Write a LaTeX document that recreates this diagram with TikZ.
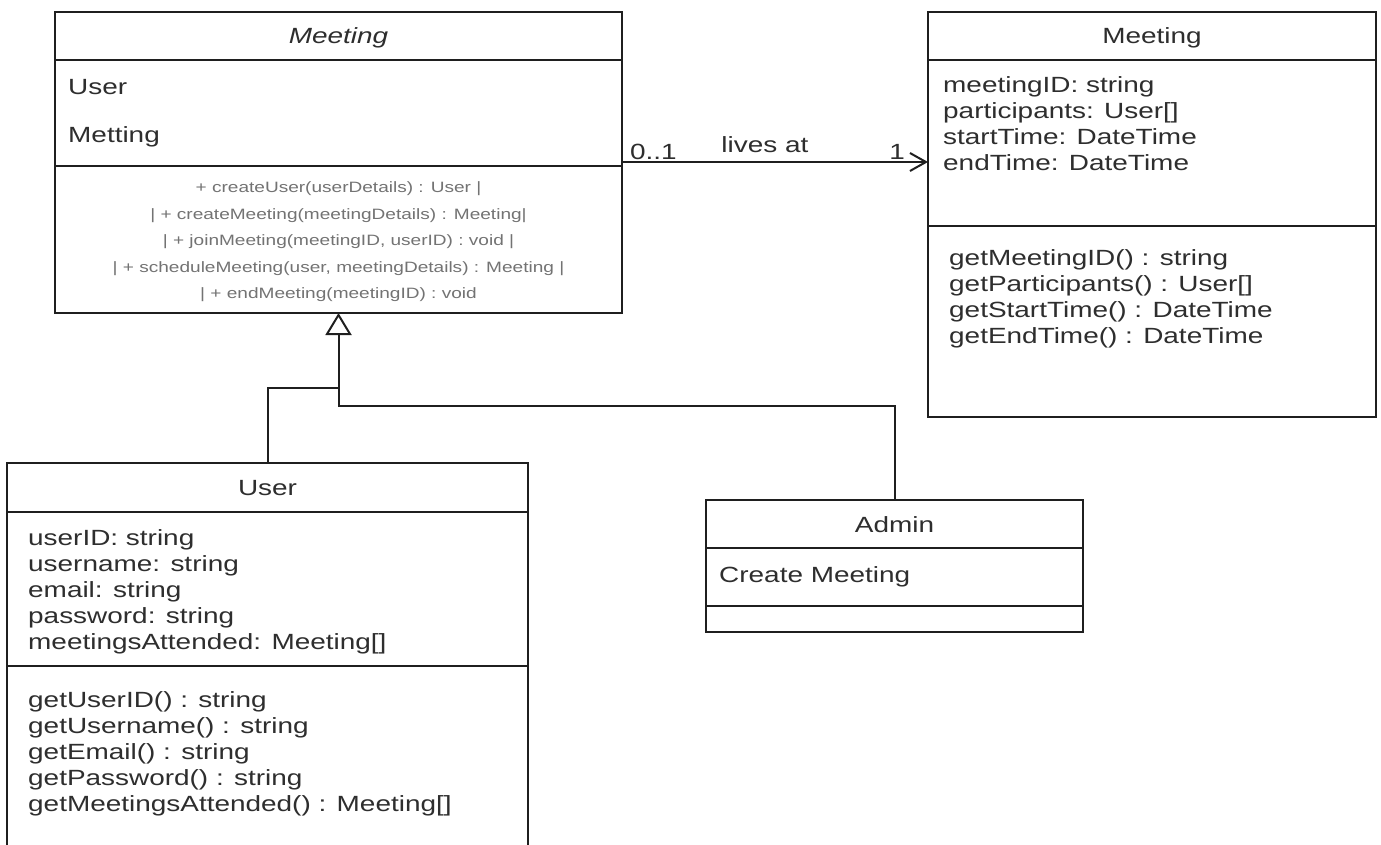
\documentclass[tikz,border=0pt]{standalone}
\usepackage{fontspec}
\setmainfont[FakeStretch=1.27]{Liberation Sans}
\usepackage{tikz}
\usetikzlibrary{arrows.meta}

\definecolor{ink}{gray}{0.18}
\definecolor{edge}{gray}{0.12}
\definecolor{opgray}{gray}{0.45}

\tikzset{
  part/.style={draw=edge, line width=2pt, anchor=north west, inner sep=0pt, outer sep=0pt},
  head/.style={part, text height=16pt, text depth=0pt, text=ink, font=\fontsize{22}{26}\selectfont},
  members/.style={anchor=base west, inner sep=0pt, align=left, text=ink, font=\fontsize{22}{26}\selectfont},
  ops/.style={anchor=base, inner sep=0pt, align=center, text=opgray, font=\fontsize{15}{26.5}\selectfont},
  inherit/.style={draw=edge, line width=2pt, -{Triangle[open, length=22pt, width=26pt]}},
  assoc/.style={draw=edge, line width=2pt, -{Straight Barb[length=16pt, width=18pt]}},
  mult/.style={inner sep=0pt, text=ink, font=\fontsize{22}{26}\selectfont}
}

\begin{document}
\begin{tikzpicture}[x=1pt, y=-1pt]
\useasboundingbox[fill=white] (0,0) rectangle (1381,845);

\node[head, minimum width=567pt, minimum height=48pt] (mtgAHead) at (55,12) {\itshape Meeting};
\node[part, minimum width=567pt, minimum height=106pt] (mtgAAttrs) at (mtgAHead.south west) {};
\node[part, minimum width=567pt, minimum height=147pt] (mtgAOps) at (mtgAAttrs.south west) {};
\node[members, font=\fontsize{22}{48}\selectfont] (mtgAAttrTxt) at ([xshift=13pt, yshift=-83pt]mtgAAttrs.north west) {User\\Metting};
\node[ops] (mtgAOpTxt) at ([yshift=-132.5pt]mtgAOps.north) {+ createUser(userDetails) : User |\\
| + createMeeting(meetingDetails) : Meeting|\\
| + joinMeeting(meetingID, userID) : void |\\
| + scheduleMeeting(user, meetingDetails) : Meeting |\\
| + endMeeting(meetingID) : void};

\node[head, minimum width=448pt, minimum height=48pt] (mtgBHead) at (928,12) {Meeting};
\node[part, minimum width=448pt, minimum height=166pt] (mtgBAttrs) at (mtgBHead.south west) {};
\node[part, minimum width=448pt, minimum height=191pt] (mtgBOps) at (mtgBAttrs.south west) {};
\node[members] (mtgBAttrTxt) at ([xshift=15pt, yshift=-111pt]mtgBAttrs.north west) {meetingID: string\\
participants: User[]\\
startTime: DateTime\\
endTime: DateTime};
\node[members] (mtgBOpTxt) at ([xshift=21pt, yshift=-117.5pt]mtgBOps.north west) {getMeetingID() : string\\
getParticipants() : User[]\\
getStartTime() : DateTime\\
getEndTime() : DateTime};

\node[head, minimum width=521pt, minimum height=49pt] (userHead) at (7,463) {User};
\node[part, minimum width=521pt, minimum height=154pt] (userAttrs) at (userHead.south west) {};
\node[part, minimum width=521pt, minimum height=215pt] (userOps) at (userAttrs.south west) {};
\node[members] (userAttrTxt) at ([xshift=21pt, yshift=-137pt]userAttrs.north west) {userID: string\\
username: string\\
email: string\\
password: string\\
meetingsAttended: Meeting[]};
\node[members] (userOpTxt) at ([xshift=21pt, yshift=-145pt]userOps.north west) {getUserID() : string\\
getUsername() : string\\
getEmail() : string\\
getPassword() : string\\
getMeetingsAttended() : Meeting[]};

\node[head, minimum width=377pt, minimum height=48pt] (adminHead) at (706,500) {Admin};
\node[part, minimum width=377pt, minimum height=58pt] (adminAttrs) at (adminHead.south west) {};
\node[part, minimum width=377pt, minimum height=26pt] (adminOps) at (adminAttrs.south west) {};
\node[members] (adminAttrTxt) at ([xshift=13pt, yshift=-34pt]adminAttrs.north west) {Create Meeting};

\coordinate (busUser) at ([yshift=-75pt]mtgAOps.south);
\coordinate (busAdmin) at ([yshift=-93pt]mtgAOps.south);
\draw[inherit] (adminHead.north) |- (busAdmin) -- (mtgAOps.south);
\draw[draw=edge, line width=2pt] (userHead.north) |- (busUser);

\draw[assoc] ([yshift=-49pt]mtgAAttrs.east) -- ([yshift=-49pt]mtgAAttrs.east -| mtgBAttrs.west)
  node[mult, pos=0, anchor=base west, xshift=7pt, yshift=2pt] {0..1}
  node[mult, pos=0.467, anchor=base, yshift=9pt] {lives at}
  node[mult, pos=1, anchor=base east, xshift=-22pt, yshift=2pt] {1};
\end{tikzpicture}
\end{document}
